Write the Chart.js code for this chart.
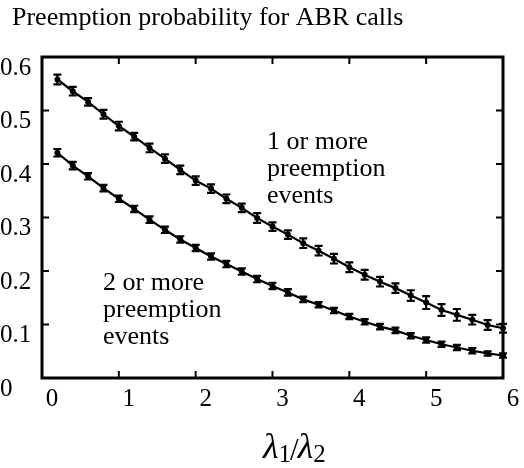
<!DOCTYPE html>
<html>
<head>
<meta charset="utf-8">
<script src="https://cdn.jsdelivr.net/npm/chart.js@4/dist/chart.umd.min.js"></script>
<style>
  html, body { margin: 0; padding: 0; background: #fff; }
  #wrap { width: 524px; height: 468px; }
  .preload { position: absolute; left: -9999px; font-family: 'Liberation Serif'; }
</style>
</head>
<body>
<span class="preload">Preemption <i>λ</i></span>
<div id="wrap"><canvas id="preempt"></canvas></div>
<script>
// lambda1/lambda2 values
const ratio = [0.2, 0.4, 0.6, 0.8, 1.0, 1.2, 1.4, 1.6, 1.8, 2.0,
               2.2, 2.4, 2.6, 2.8, 3.0, 3.2, 3.4, 3.6, 3.8, 4.0,
               4.2, 4.4, 4.6, 4.8, 5.0, 5.2, 5.4, 5.6, 5.8, 6.0];

// 1 or more preemption events
const oneOrMore = [0.558, 0.536, 0.516, 0.493, 0.471, 0.451, 0.430, 0.410, 0.389, 0.369,
                   0.354, 0.335, 0.318, 0.299, 0.283, 0.268, 0.252, 0.238, 0.223, 0.207,
                   0.193, 0.180, 0.168, 0.154, 0.141, 0.127, 0.118, 0.109, 0.099, 0.093];
const oneOrMoreErr = [0.009, 0.008, 0.007, 0.008, 0.008, 0.007, 0.008, 0.008, 0.008, 0.008,
                      0.008, 0.008, 0.008, 0.009, 0.008, 0.008, 0.009, 0.009, 0.009, 0.009,
                      0.009, 0.009, 0.009, 0.010, 0.012, 0.011, 0.011, 0.009, 0.009, 0.008];

// 2 or more preemption events
const twoOrMore = [0.421, 0.397, 0.377, 0.355, 0.335, 0.316, 0.296, 0.277, 0.259, 0.243,
                   0.227, 0.213, 0.199, 0.185, 0.172, 0.160, 0.147, 0.137, 0.126, 0.115,
                   0.105, 0.096, 0.089, 0.079, 0.071, 0.063, 0.057, 0.051, 0.046, 0.042];
const twoOrMoreErr = [0.007, 0.007, 0.006, 0.006, 0.006, 0.006, 0.006, 0.006, 0.006, 0.006,
                      0.006, 0.006, 0.006, 0.006, 0.006, 0.006, 0.005, 0.005, 0.005, 0.005,
                      0.005, 0.005, 0.005, 0.005, 0.005, 0.005, 0.005, 0.005, 0.004, 0.004];

const xTicks = [0, 1, 2, 3, 4, 5, 6];
const yTicks = [0, 0.1, 0.2, 0.3, 0.4, 0.5, 0.6];

const serif = "'Liberation Serif', 'Times New Roman', serif";

const toPoints = (ys) => ratio.map((x, i) => ({ x: x, y: ys[i] }));

// error bars, frame, inward ticks and the texts
const extras = {
    id: "extras",
    afterDatasetsDraw(chart) {
        const ctx = chart.ctx;
        const xs = chart.scales.x, ys = chart.scales.y;
        const a = chart.chartArea;
        ctx.save();
        ctx.strokeStyle = "#000";
        ctx.fillStyle = "#000";

        // error bars
        ctx.lineWidth = 2.2;
        [[oneOrMore, oneOrMoreErr], [twoOrMore, twoOrMoreErr]].forEach(([vals, errs]) => {
            vals.forEach((v, i) => {
                const px = xs.getPixelForValue(ratio[i]);
                const lo = ys.getPixelForValue(v - errs[i]);
                const hi = ys.getPixelForValue(v + errs[i]);
                ctx.beginPath();
                ctx.moveTo(px, lo); ctx.lineTo(px, hi);
                ctx.moveTo(px - 4, lo); ctx.lineTo(px + 4, lo);
                ctx.moveTo(px - 4, hi); ctx.lineTo(px + 4, hi);
                ctx.stroke();
            });
        });

        // frame
        ctx.lineWidth = 3;
        ctx.strokeRect(a.left, a.top, a.right - a.left, a.bottom - a.top);

        // inward ticks
        ctx.lineWidth = 2;
        ctx.beginPath();
        xTicks.slice(1, -1).forEach(t => {
            const px = xs.getPixelForValue(t);
            ctx.moveTo(px, a.bottom); ctx.lineTo(px, a.bottom - 7);
            ctx.moveTo(px, a.top); ctx.lineTo(px, a.top + 7);
        });
        yTicks.slice(1, -1).forEach(t => {
            const py = ys.getPixelForValue(t);
            ctx.moveTo(a.left, py); ctx.lineTo(a.left + 7, py);
            ctx.moveTo(a.right, py); ctx.lineTo(a.right - 7, py);
        });
        ctx.stroke();

        // title
        ctx.textBaseline = "alphabetic";
        ctx.textAlign = "left";
        ctx.font = "26px " + serif;
        ctx.fillText("Preemption probability for ABR calls", 12, 25);

        // curve labels
        const lines1 = ["1 or more", "preemption", "events"];
        const lines2 = ["2 or more", "preemption", "events"];
        lines1.forEach((s, i) => ctx.fillText(s, 267, 149 + i * 27));
        lines2.forEach((s, i) => ctx.fillText(s, 103, 290 + i * 27));

        // x axis label: lambda1/lambda2
        let x = 263;
        const base = 458;
        ctx.font = "italic 36px " + serif;
        ctx.fillText("\u03bb", x, base);
        x += ctx.measureText("\u03bb").width;
        ctx.font = "25px " + serif;
        ctx.fillText("1", x, base + 4);
        x += ctx.measureText("1").width - 1;
        ctx.font = "31px " + serif;
        ctx.fillText("/", x, base + 2);
        x += ctx.measureText("/").width - 1;
        ctx.font = "italic 36px " + serif;
        ctx.fillText("\u03bb", x, base);
        x += ctx.measureText("\u03bb").width;
        ctx.font = "25px " + serif;
        ctx.fillText("2", x, base + 4);

        ctx.restore();
    }
};

function draw() {
    new Chart(document.getElementById("preempt"), {
        type: "line",
        data: {
            datasets: [
                {
                    label: "1 or more preemption events",
                    data: toPoints(oneOrMore),
                    borderColor: "#000",
                    backgroundColor: "#000",
                    borderWidth: 2.2,
                    pointRadius: 3,
                    pointBorderWidth: 0,
                    tension: 0
                },
                {
                    label: "2 or more preemption events",
                    data: toPoints(twoOrMore),
                    borderColor: "#000",
                    backgroundColor: "#000",
                    borderWidth: 2.2,
                    pointRadius: 3,
                    pointBorderWidth: 0,
                    tension: 0
                }
            ]
        },
        options: {
            responsive: true,
            maintainAspectRatio: false,
            animation: false,
            clip: false,
            layout: { padding: { left: 0, top: 57, right: 21, bottom: 0 } },
            plugins: {
                legend: { display: false },
                tooltip: { enabled: false },
                title: { display: false }
            },
            scales: {
                x: {
                    type: "linear",
                    min: 0,
                    max: 6,
                    afterFit: (s) => { s.height = 90; },
                    afterBuildTicks: (s) => { s.ticks = xTicks.map(v => ({ value: v })); },
                    grid: { display: false, drawTicks: false },
                    border: { display: false },
                    ticks: {
                        color: "#000",
                        font: { family: serif, size: 25 },
                        padding: 6,
                        labelOffset: 10,
                        maxRotation: 0,
                        callback: (v) => String(v)
                    }
                },
                y: {
                    min: 0,
                    max: 0.6,
                    afterFit: (s) => { s.width = 42; },
                    afterBuildTicks: (s) => { s.ticks = yTicks.map(v => ({ value: v })); },
                    grid: { display: false, drawTicks: false },
                    border: { display: false },
                    ticks: {
                        color: "#000",
                        font: { family: serif, size: 25 },
                        crossAlign: "far",
                        padding: 0,
                        labelOffset: 11,
                        callback: (v) => String(Math.round(v * 10) / 10)
                    }
                }
            }
        },
        plugins: [extras]
    });
}

Promise.all([
    document.fonts.load("26px 'Liberation Serif'"),
    document.fonts.load("italic 36px 'Liberation Serif'")
]).then(draw, draw);
</script>
</body>
</html>
